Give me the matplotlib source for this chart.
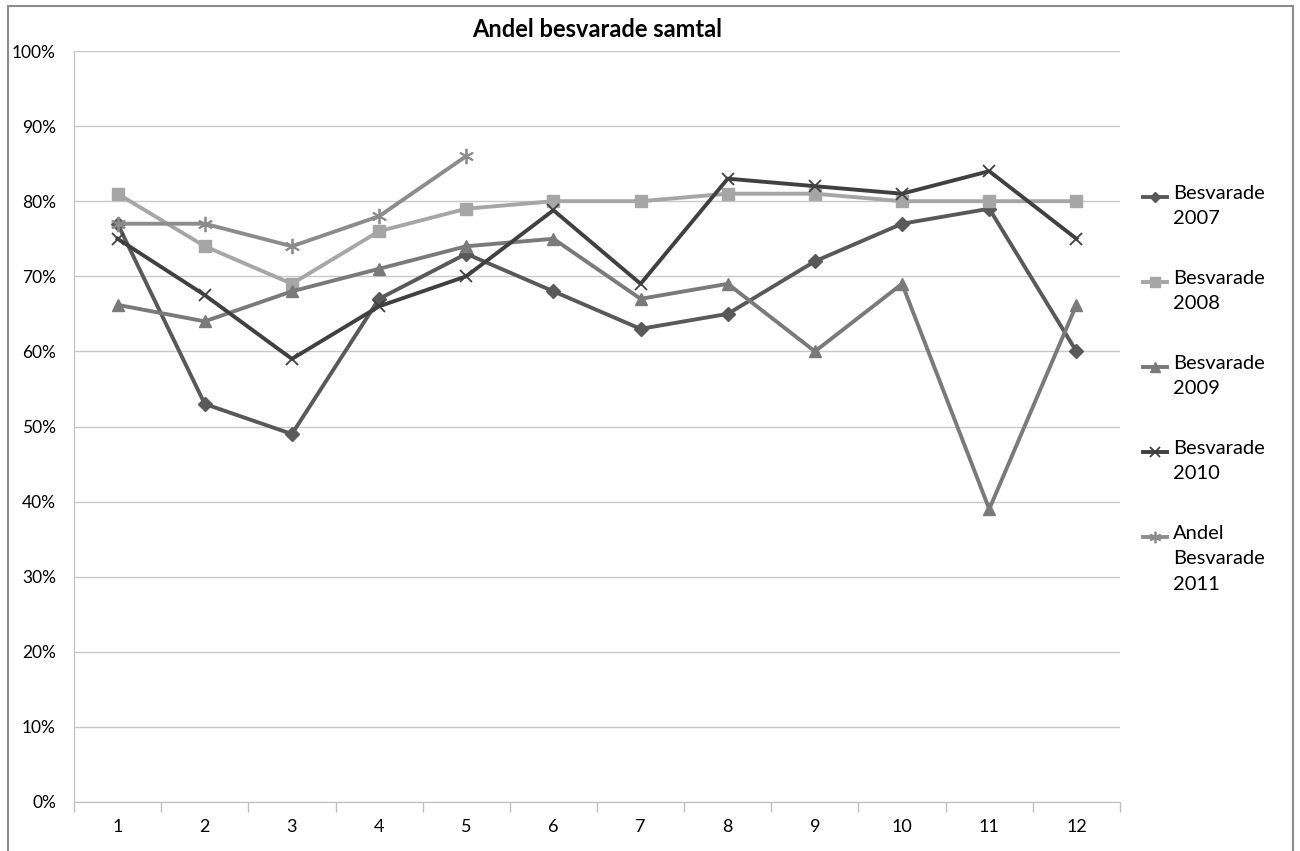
import matplotlib
matplotlib.use("Agg")
import matplotlib.pyplot as plt
from matplotlib.patches import Rectangle
from matplotlib.lines import Line2D
from matplotlib.ticker import FixedLocator, PercentFormatter

plt.rcParams['font.family'] = ['Lato', 'DejaVu Sans']

months = [1, 2, 3, 4, 5, 6, 7, 8, 9, 10, 11, 12]
besv_2007 = [77, 53, 49, 67, 73, 68, 63, 65, 72, 77, 79, 60]
besv_2008 = [81, 74, 69, 76, 79, 80, 80, 81, 81, 80, 80, 80]
besv_2009 = [66.2, 64, 68, 71, 74, 75, 67, 69, 60, 69, 39, 66.2]
besv_2010 = [75, 67.5, 59, 66, 70, 78.8, 69, 83, 82, 81, 84, 75]
besv_2011 = [77, 77, 74, 78, 86]

labels = ["Besvarade\n2007", "Besvarade\n2008", "Besvarade\n2009",
          "Besvarade\n2010", "Andel\nBesvarade\n2011"]

W, H = 1300, 851
fig = plt.figure(figsize=(W / 100, H / 100), dpi=100)
ax = fig.add_axes([74 / W, 1 - 802 / H, (1120 - 74) / W, (802 - 51) / H])

# outer chart border
fig.patches.append(Rectangle((8 / W, -0.01), 1285 / W, 1 - 6 / H + 0.01,
                             transform=fig.transFigure, fill=False,
                             edgecolor='#8c8c8c', linewidth=1.5))

lw = 2.8
styles = [
    dict(color='#595959', marker='D', ms=7),
    dict(color='#a6a6a6', marker='s', ms=9),
    dict(color='#7a7a7a', marker='^', ms=9),
    dict(color='#404040', marker='x', ms=9, mew=1.3),
    dict(color='#8c8c8c', marker=(6, 2, 0), ms=11, mew=1.3),
]
series = [besv_2007, besv_2008, besv_2009, besv_2010, besv_2011]
for vals, st in zip(series, styles):
    ax.plot(months[:len(vals)], vals, lw=lw, **st)

ax.set_xlim(0.5, 12.5)
ax.set_ylim(0, 100)
ax.yaxis.set_major_locator(FixedLocator(range(0, 101, 10)))
ax.yaxis.set_major_formatter(PercentFormatter(decimals=0))
ax.set_xticks(months)
ax.set_xticks([m - 0.5 for m in months] + [12.5], minor=True)
ax.tick_params(axis='x', which='major', length=0, pad=12, labelsize=13)
ax.tick_params(axis='x', which='minor', length=7, color='#bfbfbf', width=1)
ax.tick_params(axis='y', length=0, pad=13, labelsize=12.5)
ax.grid(axis='y', color='#c8c8c8', lw=1)
ax.set_axisbelow(True)
for s in ['top', 'right']:
    ax.spines[s].set_visible(False)
for s in ['left', 'bottom']:
    ax.spines[s].set_color('#bfbfbf')

ax.set_title("Andel besvarade samtal", fontsize=17, fontweight='bold', pad=10)

# legend drawn by hand so the key sits on the first text line
leg_y = [197, 282, 367, 452, 537]
for lab, st, y in zip(labels, styles, leg_y):
    yf = 1 - y / H
    st2 = dict(st)
    st2['ms'] = st['ms'] * 0.75
    fig.add_artist(Line2D([1143 / W, 1155 / W, 1167 / W], [yf, yf, yf], lw=lw,
                          transform=fig.transFigure, markevery=[1], **st2))
    fig.text(1173 / W, yf + 12 / H, lab, fontsize=14.5, va='top', ha='left',
             linespacing=1.6, transform=fig.transFigure)

fig.savefig("out.png", dpi=100)
